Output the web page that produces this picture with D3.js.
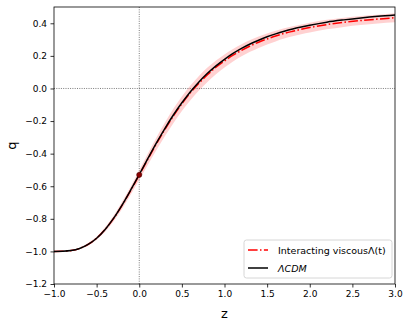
<!DOCTYPE html>
<html><head><meta charset="utf-8">
<script src="https://cdn.jsdelivr.net/npm/d3@7"></script>
<style>body{margin:0;background:#fff}svg{display:block}text{font-family:"DejaVu Sans",sans-serif}</style>
</head><body>
<svg id="c" width="409" height="327"></svg>
<script>
const zVals = [-1,-0.9,-0.8,-0.7,-0.6,-0.5,-0.4,-0.3,-0.2,-0.1,0,0.1,0.2,0.3,0.4,0.5,0.6,0.7,0.8,0.9,1.0,1.1,1.2,1.3,1.4,1.5,1.6,1.7,1.8,1.9,2.0,2.2,2.4,2.6,2.8,3.0];
const lcdm = [-1.000,-0.999,-0.995,-0.982,-0.957,-0.919,-0.865,-0.796,-0.714,-0.623,-0.528,-0.431,-0.336,-0.246,-0.163,-0.088,-0.020,0.040,0.093,0.139,0.179,0.215,0.246,0.273,0.296,0.317,0.335,0.351,0.365,0.377,0.388,0.407,0.421,0.433,0.443,0.451];
const viscous = [-1.000,-0.999,-0.995,-0.982,-0.957,-0.919,-0.865,-0.797,-0.716,-0.626,-0.531,-0.435,-0.341,-0.252,-0.169,-0.094,-0.027,0.032,0.084,0.130,0.169,0.204,0.234,0.261,0.284,0.304,0.322,0.338,0.351,0.363,0.374,0.392,0.406,0.417,0.426,0.434];
const bandLow = [-1.002,-1.002,-0.999,-0.987,-0.965,-0.929,-0.879,-0.815,-0.738,-0.651,-0.560,-0.469,-0.379,-0.293,-0.213,-0.139,-0.072,-0.013,0.040,0.088,0.129,0.166,0.197,0.225,0.249,0.270,0.289,0.306,0.320,0.333,0.344,0.363,0.378,0.389,0.399,0.407];
const bandHigh = [-0.998,-0.996,-0.991,-0.977,-0.949,-0.909,-0.851,-0.779,-0.694,-0.601,-0.502,-0.401,-0.303,-0.211,-0.125,-0.049,0.018,0.077,0.128,0.172,0.209,0.242,0.271,0.297,0.319,0.338,0.355,0.370,0.382,0.393,0.404,0.421,0.434,0.445,0.453,0.461];
const markerPoint = [0, -0.530];
const xTicks = [-1.0,-0.5,0.0,0.5,1.0,1.5,2.0,2.5,3.0];
const yTicks = [-1.2,-1.0,-0.8,-0.6,-0.4,-0.2,0.0,0.2,0.4];
const legendLabels = ["Interacting viscous\u039B(t)", "\u039BCDM"];

const svg = d3.select("#c");
const L = 54, R = 395, T = 7, B = 284;
const x = d3.scaleLinear().domain([-1, 3]).range([L, R]);
const y = d3.scaleLinear().domain([-1.2, 0.5]).range([B, T]);
const fmt = d => (d < 0 ? "\u2212" : "") + Math.abs(d).toFixed(1);

svg.append("clipPath").attr("id","clip").append("rect").attr("x",L).attr("y",T).attr("width",R-L).attr("height",B-T);
const g = svg.append("g").attr("clip-path","url(#clip)");

// band
g.append("path")
  .datum(zVals.map((z,i)=>({z, lo:bandLow[i], hi:bandHigh[i]})))
  .attr("fill","#ff0000").attr("fill-opacity",0.18)
  .attr("d", d3.area().x(d=>x(d.z)).y0(d=>y(d.lo)).y1(d=>y(d.hi)).curve(d3.curveMonotoneX));

// reference dotted lines
g.append("line").attr("x1",x(0)).attr("x2",x(0)).attr("y1",T).attr("y2",B)
  .attr("stroke","#444").attr("stroke-width",0.7).attr("stroke-dasharray","1,1.3");
g.append("line").attr("x1",L).attr("x2",R).attr("y1",y(0)).attr("y2",y(0))
  .attr("stroke","#444").attr("stroke-width",0.7).attr("stroke-dasharray","1,1.3");

const line = arr => d3.line().x((d,i)=>x(zVals[i])).y(d=>y(d)).curve(d3.curveMonotoneX)(arr);
g.append("path").attr("d", line(viscous)).attr("fill","none").attr("stroke","#ff0000").attr("stroke-width",1.5)
  .attr("stroke-dasharray","9.6,2.4,1.5,2.4");
g.append("path").attr("d", line(lcdm)).attr("fill","none").attr("stroke","#000").attr("stroke-width",1.5);

g.append("circle").attr("cx",x(markerPoint[0])).attr("cy",y(markerPoint[1])).attr("r",2.6)
  .attr("fill","#8b0000").attr("stroke","#400000").attr("stroke-width",0.5);

// axes
const xa = svg.append("g").attr("transform",`translate(0,${B})`)
  .call(d3.axisBottom(x).tickValues(xTicks).tickFormat(fmt).tickSize(3.5).tickPadding(3.5));
const ya = svg.append("g").attr("transform",`translate(${L},0)`)
  .call(d3.axisLeft(y).tickValues(yTicks).tickFormat(fmt).tickSize(3.5).tickPadding(3.5));
[xa, ya].forEach(a => {
  a.select(".domain").remove();
  a.selectAll("line").attr("stroke","#000").attr("stroke-width",0.8);
  a.selectAll("text").attr("font-size",9).attr("fill","#000").attr("font-family","DejaVu Sans");
});
svg.append("rect").attr("x",L).attr("y",T).attr("width",R-L).attr("height",B-T)
  .attr("fill","none").attr("stroke","#000").attr("stroke-width",0.8);

svg.append("text").attr("x",(L+R)/2).attr("y",318).attr("text-anchor","middle").attr("font-size",13).text("z");
svg.append("text").attr("transform",`translate(16,${(T+B)/2}) rotate(-90)`).attr("text-anchor","middle").attr("font-size",13).text("q");

// legend
const lg = svg.append("g").attr("transform","translate(244,240)");
lg.append("rect").attr("width",148).attr("height",38).attr("rx",2.5)
  .attr("fill","#fff").attr("fill-opacity",0.8).attr("stroke","#ccc").attr("stroke-width",0.8);
lg.append("line").attr("x1",4).attr("x2",24).attr("y1",10).attr("y2",10)
  .attr("stroke","#ff0000").attr("stroke-width",1.5).attr("stroke-dasharray","9.6,2.4,1.5,2.4");
lg.append("line").attr("x1",4).attr("x2",24).attr("y1",28).attr("y2",28)
  .attr("stroke","#000").attr("stroke-width",1.5);
lg.append("text").attr("x",34).attr("y",13.5).attr("font-size",9.5).text(legendLabels[0]);
lg.append("text").attr("x",34).attr("y",31.5).attr("font-size",9.5).attr("font-style","italic").text(legendLabels[1]);
</script>
</body></html>
